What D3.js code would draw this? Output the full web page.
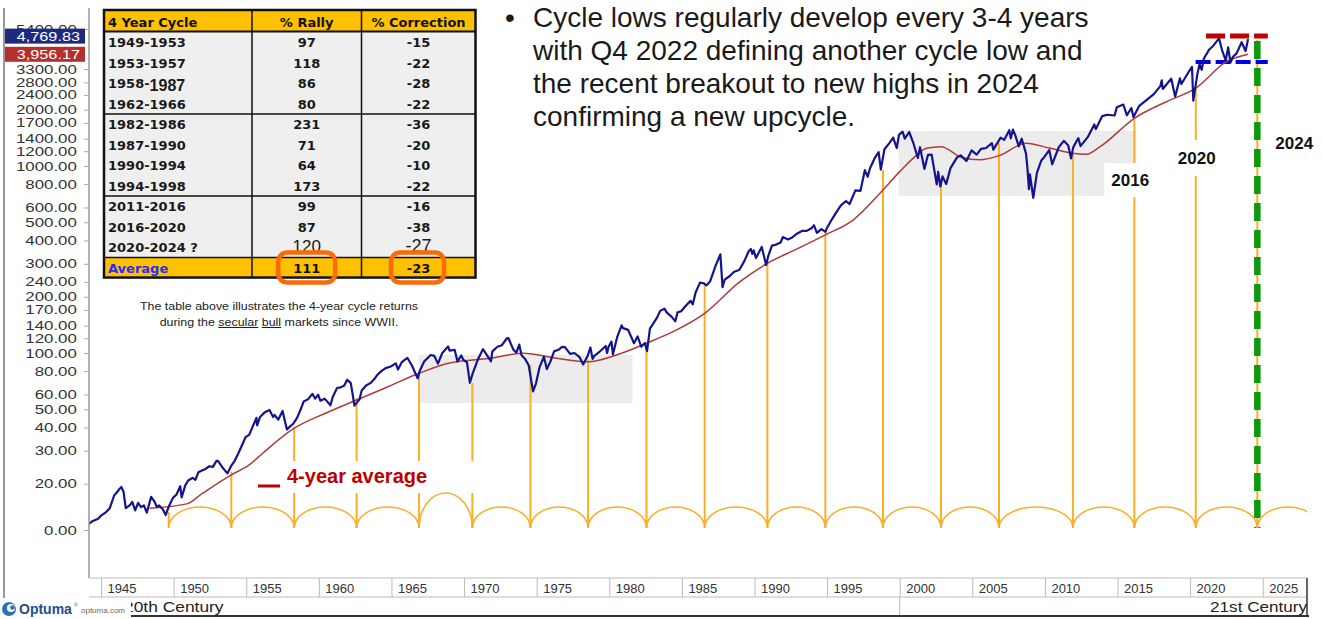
<!DOCTYPE html>
<html>
<head>
<meta charset="utf-8">
<script src="https://cdn.jsdelivr.net/npm/d3@7"></script>
<style>
  body { margin: 0; background: #fff; }
  svg { display: block; font-family: Arial, "Liberation Sans", sans-serif; }
</style>
</head>
<body>
<div id="container"></div>
<script>
// ---- data ----
var spxPrice = [
  [1944.0,11.9],[1944.4,12.6],[1944.8,13.0],[1945.0,13.5],[1945.3,14.0],[1945.6,14.8],[1945.9,17.3],
  [1946.1,18.0],[1946.25,18.7],[1946.4,19.2],[1946.55,18.1],[1946.7,14.8],[1946.85,15.1],[1947.0,15.4],
  [1947.15,16.0],[1947.35,14.4],[1947.55,15.8],[1947.75,15.0],[1947.95,15.3],[1948.15,14.0],[1948.45,17.0],
  [1948.65,16.2],[1948.85,15.0],[1949.0,15.3],[1949.25,14.6],[1949.45,13.6],[1949.65,15.0],[1949.95,16.8],
  [1950.2,17.5],[1950.45,19.4],[1950.55,16.9],[1950.8,19.6],[1951.0,20.8],[1951.3,21.5],[1951.5,21.0],
  [1951.7,23.0],[1951.95,23.5],[1952.2,24.0],[1952.45,24.8],[1952.7,24.6],[1952.95,26.5],[1953.05,26.5],
  [1953.35,24.5],[1953.7,22.7],[1953.95,24.8],[1954.2,26.5],[1954.45,29.0],[1954.7,32.0],[1954.95,35.5],
  [1955.2,36.5],[1955.45,40.5],[1955.7,45.0],[1955.75,41.0],[1955.95,45.5],[1956.25,48.0],[1956.6,49.5],
  [1956.85,45.5],[1956.95,46.7],[1957.2,44.0],[1957.5,49.0],[1957.8,39.0],[1957.95,40.0],[1958.25,42.0],
  [1958.5,45.0],[1958.75,50.0],[1958.95,55.0],[1959.25,56.5],[1959.55,60.5],[1959.75,57.0],[1959.95,59.9],
  [1960.1,55.6],[1960.4,57.0],[1960.8,52.5],[1960.95,58.0],[1961.25,65.0],[1961.5,65.5],[1961.75,67.0],
  [1961.95,72.0],[1962.2,69.0],[1962.45,52.3],[1962.8,56.5],[1962.95,63.0],[1963.25,67.0],[1963.55,69.0],
  [1963.85,73.0],[1964.0,76.0],[1964.3,80.0],[1964.6,83.0],[1964.95,84.7],[1965.3,88.0],[1965.45,81.6],
  [1965.7,89.0],[1965.95,92.4],[1966.1,94.0],[1966.4,86.0],[1966.8,73.2],[1966.95,80.3],[1967.25,90.0],
  [1967.7,97.6],[1967.95,96.5],[1968.2,87.7],[1968.5,100.0],[1968.9,108.4],[1969.0,103.0],[1969.35,104.0],
  [1969.55,90.0],[1969.8,97.0],[1969.95,92.0],[1970.2,89.0],[1970.4,69.3],[1970.6,78.0],[1970.95,92.2],
  [1971.3,104.8],[1971.55,98.0],[1971.85,90.2],[1971.95,102.1],[1972.3,108.0],[1972.6,110.0],[1972.95,119.9],
  [1973.05,120.2],[1973.4,104.0],[1973.6,100.5],[1973.8,111.0],[1973.95,97.5],[1974.2,93.0],[1974.45,86.0],
  [1974.75,62.3],[1974.95,68.6],[1975.2,84.0],[1975.5,95.6],[1975.7,82.0],[1975.95,90.2],[1976.2,102.0],
  [1976.5,104.0],[1976.75,107.8],[1976.95,107.5],[1977.3,99.0],[1977.6,100.0],[1977.95,95.1],[1978.2,86.9],
  [1978.5,96.0],[1978.7,107.0],[1978.85,93.0],[1978.95,96.1],[1979.3,101.0],[1979.75,109.0],[1979.85,99.9],
  [1979.95,107.9],[1980.15,115.0],[1980.25,98.2],[1980.55,122.0],[1980.85,140.5],[1980.95,135.8],[1981.3,133.0],
  [1981.7,112.8],[1981.95,122.6],[1982.2,108.0],[1982.45,113.0],[1982.6,102.4],[1982.8,135.0],[1982.95,140.6],
  [1983.3,155.0],[1983.5,168.0],[1983.8,172.6],[1983.95,164.9],[1984.3,156.0],[1984.55,147.8],[1984.7,165.0],
  [1984.95,167.2],[1985.3,180.0],[1985.6,190.0],[1985.75,182.0],[1985.95,211.3],[1986.25,238.0],[1986.5,236.0],
  [1986.7,230.0],[1986.95,242.0],[1987.3,290.0],[1987.65,336.8],[1987.8,224.8],[1987.95,247.0],[1988.3,258.0],
  [1988.6,272.0],[1988.95,277.7],[1989.3,310.0],[1989.6,350.0],[1989.75,359.8],[1989.85,339.0],[1989.95,353.4],
  [1990.1,322.0],[1990.5,368.9],[1990.8,295.5],[1990.95,330.2],[1991.2,375.0],[1991.5,380.0],[1991.8,390.0],
  [1991.95,417.0],[1992.3,405.0],[1992.6,415.0],[1992.95,435.7],[1993.3,450.0],[1993.6,450.0],[1993.95,466.5],
  [1994.1,482.0],[1994.3,438.9],[1994.6,460.0],[1994.9,445.0],[1994.95,459.3],[1995.3,514.0],[1995.6,560.0],
  [1995.95,615.9],[1996.3,650.0],[1996.55,626.0],[1996.95,740.7],[1997.3,737.0],[1997.6,950.0],[1997.8,876.0],
  [1997.95,970.4],[1998.3,1110.0],[1998.55,1186.0],[1998.7,957.0],[1998.95,1229.0],[1999.3,1330.0],
  [1999.55,1418.0],[1999.8,1247.0],[1999.95,1469.0],[2000.2,1527.0],[2000.35,1400.0],[2000.65,1520.0],
  [2000.95,1320.0],[2001.25,1103.0],[2001.4,1260.0],[2001.7,965.0],[2001.95,1148.0],[2002.2,1150.0],
  [2002.55,797.0],[2002.65,930.0],[2002.8,776.8],[2002.95,879.8],[2003.2,800.0],[2003.5,975.0],[2003.95,1111.9],
  [2004.2,1140.0],[2004.6,1063.0],[2004.95,1211.9],[2005.3,1150.0],[2005.6,1235.0],[2005.95,1248.3],
  [2006.35,1325.0],[2006.45,1223.0],[2006.95,1418.3],[2007.2,1380.0],[2007.55,1553.0],[2007.65,1406.0],
  [2007.8,1565.0],[2007.95,1468.0],[2008.2,1273.0],[2008.4,1400.0],[2008.7,1166.0],[2008.8,968.0],
  [2008.9,752.0],[2008.97,903.0],[2009.2,676.5],[2009.45,919.0],[2009.75,1070.0],[2009.95,1115.0],
  [2010.3,1217.0],[2010.5,1022.0],[2010.95,1257.6],[2011.3,1363.0],[2011.6,1290.0],[2011.8,1099.0],
  [2011.95,1257.6],[2012.3,1410.0],[2012.45,1278.0],[2012.95,1426.2],[2013.4,1669.0],[2013.5,1573.0],
  [2013.95,1848.4],[2014.3,1880.0],[2014.8,1862.0],[2014.95,2058.9],[2015.4,2130.0],[2015.65,1867.0],
  [2015.95,2043.9],[2016.1,1829.0],[2016.5,2099.0],[2016.95,2238.8],[2017.5,2423.0],[2017.95,2673.6],
  [2018.05,2872.9],[2018.12,2581.0],[2018.7,2930.8],[2018.97,2351.0],[2019.3,2945.0],[2019.4,2744.0],
  [2019.95,3230.8],[2020.13,3386.0],[2020.22,2237.4],[2020.5,3100.0],[2020.65,3500.0],[2020.8,3270.0],
  [2020.95,3756.0],[2021.3,4181.0],[2021.6,4400.0],[2021.95,4766.0],[2022.0,4796.6],[2022.2,4170.0],
  [2022.45,3666.0],[2022.62,4305.0],[2022.78,3577.0],[2022.95,3839.5],[2023.2,4000.0],[2023.55,4589.0],
  [2023.82,4117.0],[2023.99,4769.83]
];

// 4-year moving average (red line)
var avg4Year = [
  [1948.35,14.8],[1950.9,15.6],[1952.0,17.8],[1953.97,22.3],[1955.2,25.2],[1956.15,29.2],[1958.3,39.6],
  [1960.5,47.8],[1962.6,56.1],[1964.76,66.0],[1966.9,77.9],[1969.0,88.4],[1970.57,91.8],[1971.76,93.7],
  [1974.06,99.6],[1976.36,93.7],[1978.54,89.8],[1980.49,97.6],[1982.55,112.7],[1984.39,130],[1986.57,163],
  [1988.98,240],[1990.89,302],[1992.9,359],[1994.88,428],[1996.79,514],[1998.85,744],[2000.0,933],
  [2000.92,1099],[2001.84,1244],[2002.84,1268],[2004.3,1110],[2005.5,1080],[2006.9,1140],[2008.7,1325],
  [2010.3,1248],[2011.9,1169],[2012.86,1155],[2013.8,1268],[2016.16,1800],[2018.37,2207],[2020.39,2605],
  [2022.5,3612],[2023.99,3956.17]
];

// cycle lows (orange verticals)
var cycleLowYears  = [1949.66,1953.97,1958.3,1962.6,1966.9,1970.57,1974.57,1978.54,1982.56,1986.57,
                      1990.89,1994.88,1998.85,2002.84,2006.84,2011.93,2016.16,2020.39,2024.63];
var cycleLowValues = [14.1,23.2,40.3,57.5,78.2,69.1,86.2,91.8,108,236,303,455,952,811,1327,1174,1828,2612,4720];

// shaded sideways ranges
var rangeStart = [1966.9, 1999.93];
var rangeEnd   = [1981.6, 2016.3];
var rangeLow   = [54, 692];
var rangeHigh  = [97.6, 1538];

// recent range dashes
var recentHigh = 4950, recentLow = 3600;

// axes
var yTickValues = [5400,3300,2800,2400,2000,1700,1400,1200,1000,800,600,500,400,300,240,200,170,140,120,100,80,60,50,40,30,20,11.3];
var yTickLabels = ["5400.00","3300.00","2800.00","2400.00","2000.00","1700.00","1400.00","1200.00","1000.00",
                   "800.00","600.00","500.00","400.00","300.00","240.00","200.00","170.00","140.00","120.00",
                   "100.00","80.00","60.00","50.00","40.00","30.00","20.00","0.00"];
var xTickYears = d3.range(1945, 2026, 5);
var lastClose = 4769.83, lastAverage = 3956.17;

// table
var cycleRanges   = ["1949-1953","1953-1957","1958-1987","1962-1966","1982-1986","1987-1990",
                     "1990-1994","1994-1998","2011-2016","2016-2020","2020-2024 ?"];
var rallyPct      = [97,118,86,80,231,71,64,173,99,87,120];
var correctionPct = [-15,-22,-28,-22,-36,-20,-10,-22,-16,-38,-27];
var averageRally = 111, averageCorrection = -23;

var bulletLines = ["Cycle lows regularly develop every 3-4 years",
                   "with Q4 2022 defining another cycle low and",
                   "the recent breakout to new highs in 2024",
                   "confirming a new upcycle."];

// ---- chart ----
var W = 1323, H = 619;
var plot = { left: 89, right: 1307, top: 8, bottom: 578 };
var baseY = 528;

var svg = d3.select("#container").append("svg").attr("width", W).attr("height", H);

var x = d3.scaleLinear().domain([1944.17, 2028.05]).range([plot.left, plot.right]);
var y = d3.scaleLog().domain([10, 10000]).range([540, -21]);

function stretch(sel, sx) {
  sel.attr("transform", function () {
    var t = d3.select(this), tx = +t.attr("x") || 0, ty = +t.attr("y") || 0;
    return "translate(" + tx + "," + ty + ") scale(" + sx + ",1) translate(" + (-tx) + "," + (-ty) + ")";
  });
}

svg.append("clipPath").attr("id", "plotclip")
  .append("rect").attr("x", plot.left).attr("y", 0)
  .attr("width", plot.right - plot.left).attr("height", plot.bottom);

var main = svg.append("g").attr("clip-path", "url(#plotclip)");

// shaded ranges
main.selectAll("rect.range").data(rangeStart).enter().append("rect")
  .attr("class", "range")
  .attr("x", function (d) { return x(d); })
  .attr("width", function (d, i) { return x(rangeEnd[i]) - x(d); })
  .attr("y", function (d, i) { return y(rangeHigh[i]); })
  .attr("height", function (d, i) { return y(rangeLow[i]) - y(rangeHigh[i]); })
  .style("fill", "#ececec");

// cycle low verticals
main.selectAll("line.cycle").data(cycleLowYears).enter().append("line")
  .attr("class", "cycle")
  .attr("x1", function (d) { return x(d); }).attr("x2", function (d) { return x(d); })
  .attr("y1", function (d, i) { return y(cycleLowValues[i]); }).attr("y2", baseY)
  .style("stroke", "#fbae28").style("stroke-width", 2);

// green 2024 marker
var lastCycle = cycleLowYears[cycleLowYears.length - 1];
main.append("line")
  .attr("x1", x(lastCycle)).attr("x2", x(lastCycle))
  .attr("y1", y(cycleLowValues[cycleLowValues.length - 1]) + 1).attr("y2", baseY)
  .style("stroke", "#0b9a0b").style("stroke-width", 6.5).style("stroke-dasharray", "18,9");

// white label backgrounds
function whiteBox(x0, y0, w, h) {
  main.append("rect").attr("x", x0).attr("y", y0).attr("width", w).attr("height", h).style("fill", "#fff");
}
whiteBox(255, 461, 224, 32);
whiteBox(x(2016.16) - 30, 163, 56, 34);
whiteBox(x(2020.39) - 24, 140, 48, 36);

// cycle arcs
var arcYears = cycleLowYears.concat([cycleLowYears[cycleLowYears.length - 1] + 4.2]);
main.selectAll("path.arc").data(d3.range(arcYears.length - 1)).enter().append("path")
  .attr("class", "arc")
  .attr("d", function (i) {
    var x0 = x(arcYears[i]), x1 = x(arcYears[i + 1]);
    var h = (x1 - x0) < 55 ? 35 : 21;
    return "M" + x0 + "," + baseY + " A" + (x1 - x0) / 2 + "," + h + " 0 0 1 " + x1 + "," + baseY;
  })
  .style("fill", "none").style("stroke", "#fbae28").style("stroke-width", 1.6);

// recent range dashes
main.append("line")
  .attr("x1", x(2021.1)).attr("x2", x(2025.35))
  .attr("y1", y(recentHigh)).attr("y2", y(recentHigh))
  .style("stroke", "#c00000").style("stroke-width", 5).style("stroke-dasharray", "19,5");
main.append("line")
  .attr("x1", x(2020.38)).attr("x2", x(2025.35))
  .attr("y1", y(recentLow)).attr("y2", y(recentLow))
  .style("stroke", "#0000e6").style("stroke-width", 4).style("stroke-dasharray", "15,5");

// 4-year average
main.append("path").datum(avg4Year)
  .attr("d", d3.line().x(function (d) { return x(d[0]); }).y(function (d) { return y(d[1]); })
    .curve(d3.curveMonotoneX))
  .style("fill", "none").style("stroke", "#b23a3a").style("stroke-width", 1.5);

// price
main.append("path").datum(spxPrice)
  .attr("d", d3.line().x(function (d) { return x(d[0]); }).y(function (d) { return y(d[1]); }))
  .style("fill", "none").style("stroke", "#14148c").style("stroke-width", 2.2).style("stroke-linejoin", "round");

// in-chart labels
main.append("line").attr("x1", 258).attr("x2", 280).attr("y1", 486).attr("y2", 486)
  .style("stroke", "#c00000").style("stroke-width", 3);
main.append("text").attr("x", 287).attr("y", 483).text("4-year average")
  .style("font-size", "20px").style("font-weight", "bold").style("fill", "#c00000");

var yearLabels = [[2016.16, 186, -23], [2020.39, 164, -18], [2024.63, 149, 18]];
svg.selectAll("text.cyc").data(yearLabels).enter().append("text")
  .attr("class", "cyc")
  .attr("x", function (d) { return x(d[0]) + d[2]; }).attr("y", function (d) { return d[1]; })
  .text(function (d) { return Math.floor(d[0]); })
  .style("font-size", "17px").style("font-weight", "bold").style("fill", "#111");

// ---- y axis ----
svg.append("line").attr("x1", 4).attr("x2", 4).attr("y1", 8).attr("y2", 598)
  .style("stroke", "#999").style("stroke-width", 2);
svg.append("line").attr("x1", plot.left).attr("x2", plot.left).attr("y1", plot.top).attr("y2", plot.bottom)
  .style("stroke", "#999").style("stroke-width", 1.5);

var yAxis = svg.append("g").attr("transform", "translate(" + plot.left + ",0)")
  .call(d3.axisLeft(y).tickValues(yTickValues).tickSize(5).tickPadding(4)
    .tickFormat(function (d, i) { return yTickLabels[i]; }));
yAxis.select(".domain").remove();
yAxis.selectAll(".tick line").style("stroke", "#aaa");
yAxis.selectAll(".tick text").style("font-family", "Arial, 'Liberation Sans', sans-serif")
  .style("font-size", "12.5px").style("fill", "#333").attr("transform", "scale(1.35,1)");

// last value boxes
var valBoxes = [[lastClose, "#1d2a80", -3], [lastAverage, "#b3302d", 0]];
valBoxes.forEach(function (b) {
  var cy = y(b[0]) + b[2];
  svg.append("rect").attr("x", 5).attr("y", cy - 7.5).attr("width", 80).attr("height", 15).style("fill", b[1]);
  var t = svg.append("text").attr("x", 80).attr("y", cy + 4.5).attr("text-anchor", "end")
    .text(d3.format(",.2f")(b[0]))
    .style("font-size", "12.5px").style("fill", "#fff");
  stretch(t, 1.3);
});

// ---- x axis band ----
var xAxis = svg.append("g").attr("transform", "translate(0," + plot.bottom + ")")
  .call(d3.axisBottom(x).tickValues(xTickYears).tickSize(19).tickFormat(d3.format("d")));
xAxis.select(".domain").remove();
xAxis.selectAll(".tick line").style("stroke", "#bbb");
xAxis.selectAll(".tick text").attr("x", 6).attr("y", 15).attr("dy", 0).style("text-anchor", "start")
  .style("font-family", "Arial, 'Liberation Sans', sans-serif").style("font-size", "13px").style("fill", "#333");

svg.append("line").attr("x1", plot.left).attr("x2", plot.right).attr("y1", plot.bottom).attr("y2", plot.bottom)
  .style("stroke", "#bbb");
svg.append("line").attr("x1", plot.left).attr("x2", plot.right).attr("y1", 597).attr("y2", 597)
  .style("stroke", "#bbb");
svg.append("line").attr("x1", x(2000)).attr("x2", x(2000)).attr("y1", 597).attr("y2", 615)
  .style("stroke", "#bbb");
svg.append("line").attr("x1", plot.right).attr("x2", plot.right).attr("y1", plot.bottom).attr("y2", 616)
  .style("stroke", "#333").style("stroke-width", 1.5);
svg.append("line").attr("x1", 120).attr("x2", plot.right + 2).attr("y1", 616).attr("y2", 616)
  .style("stroke", "#333").style("stroke-width", 2);

var c20 = svg.append("text").attr("x", 124).attr("y", 612).text("20th Century")
  .style("font-size", "15px").style("fill", "#222");
stretch(c20, 1.16);
var c21 = svg.append("text").attr("x", plot.right).attr("y", 612).attr("text-anchor", "end").text("21st Century")
  .style("font-size", "15px").style("fill", "#222");
stretch(c21, 1.14);

// Optuma logo
svg.append("rect").attr("x", 0).attr("y", 599).attr("width", 131).attr("height", 20).style("fill", "#fff");
svg.append("circle").attr("cx", 9).attr("cy", 609).attr("r", 7).style("fill", "#2a72b8");
svg.append("circle").attr("cx", 11).attr("cy", 608).attr("r", 4).style("fill", "#fff");
svg.append("circle").attr("cx", 12.5).attr("cy", 607.5).attr("r", 2.3).style("fill", "#2a72b8");
svg.append("text").attr("x", 19).attr("y", 614).text("Optuma")
  .style("font-size", "14px").style("font-weight", "bold").style("fill", "#1e4e8c");
svg.append("text").attr("x", 74).attr("y", 607).text("®").style("font-size", "5px").style("fill", "#666");
svg.append("text").attr("x", 81).attr("y", 613).text("optuma.com").style("font-size", "8px").style("fill", "#666");

// ---- bullet text ----
svg.append("text").attr("x", 505).attr("y", 27).text("•").style("font-size", "28px").style("fill", "#1a1a1a");
svg.selectAll("text.bullet").data(bulletLines).enter().append("text")
  .attr("class", "bullet")
  .attr("x", 533).attr("y", function (d, i) { return 27 + i * 33; })
  .text(function (d) { return d; })
  .style("font-size", "28px").style("fill", "#1a1a1a");

// ---- table ----
var tb = svg.append("g").style("font-family", "'DejaVu Sans', Verdana, sans-serif");
var tL = 104, tR = 475.5, c1 = 252, c2 = 361.5, tTop = 10, hdrB = 31.5, row0 = 42.3, step = 20.5;
var avgTop = row0 + step * (cycleRanges.length - 0.5), tBot = avgTop + 20;
var rallyX = 306.7, corrX = 418.5;

tb.append("rect").attr("x", tL).attr("y", tTop).attr("width", tR - tL).attr("height", hdrB - tTop).style("fill", "#ffc000");
tb.append("rect").attr("x", tL).attr("y", hdrB).attr("width", tR - tL).attr("height", avgTop - hdrB).style("fill", "#efefef");
tb.append("rect").attr("x", tL).attr("y", avgTop).attr("width", tR - tL).attr("height", tBot - avgTop).style("fill", "#ffc000");

[c1, c2].forEach(function (cx) {
  tb.append("line").attr("x1", cx).attr("x2", cx).attr("y1", tTop).attr("y2", tBot)
    .style("stroke", "#111").style("stroke-width", 1.5);
});
tb.append("line").attr("x1", tL).attr("x2", tR).attr("y1", hdrB).attr("y2", hdrB).style("stroke", "#111").style("stroke-width", 2);
[3, 7, 10].forEach(function (i) {
  var gy = row0 + step * (i + 0.5);
  tb.append("line").attr("x1", tL).attr("x2", tR).attr("y1", gy).attr("y2", gy)
    .style("stroke", "#111").style("stroke-width", 1.5);
});
tb.append("rect").attr("x", tL).attr("y", tTop).attr("width", tR - tL).attr("height", tBot - tTop)
  .style("fill", "none").style("stroke", "#111").style("stroke-width", 2.5);

// header
var hdr = [["4 Year Cycle", tL + 4, "start"], ["% Rally", rallyX, "middle"], ["% Correction", corrX, "middle"]];
hdr.forEach(function (h) {
  tb.append("text").attr("x", h[1]).attr("y", 26.5).attr("text-anchor", h[2]).text(h[0])
    .style("font-size", "13px").style("font-weight", "bold").style("fill", "#111");
});

// body rows
var last = cycleRanges.length - 1;
var rows = tb.selectAll("g.row").data(cycleRanges).enter().append("g").attr("class", "row");
rows.append("text")
  .attr("x", tL + 4).attr("y", function (d, i) { return row0 + step * i + 5; })
  .style("font-size", "13px").style("font-weight", "bold").style("fill", "#1a1a1a")
  .each(function (d, i) {
    var t = d3.select(this);
    if (i === 2) {
      var parts = d.split("-");
      t.append("tspan").text(parts[0] + "-");
      t.append("tspan").attr("dy", 3).text(parts[1])
        .style("font-family", "Arial, 'Liberation Sans', sans-serif").style("font-size", "16px");
    } else {
      t.text(d);
    }
  });

function numCell(values, cx, lastSize) {
  rows.append("text")
    .attr("x", cx).attr("y", function (d, i) { return row0 + step * i + 5; })
    .attr("text-anchor", "middle")
    .text(function (d, i) { return values[i]; })
    .each(function (d, i) {
      var t = d3.select(this);
      if (i === last) {
        t.style("font-family", "Arial, 'Liberation Sans', sans-serif").style("font-size", lastSize).style("font-weight", "normal");
      } else {
        t.style("font-size", "13px").style("font-weight", "bold");
      }
    })
    .style("fill", "#1a1a1a");
}
numCell(rallyPct, rallyX, "17px");
numCell(correctionPct, corrX, "18px");

// average row
var avgY = avgTop + 15;
tb.append("text").attr("x", tL + 4).attr("y", avgY).text("Average")
  .style("font-size", "13px").style("font-weight", "bold").style("fill", "#2b2bff");
tb.append("text").attr("x", rallyX).attr("y", avgY).attr("text-anchor", "middle").text(averageRally)
  .style("font-size", "13px").style("font-weight", "bold").style("fill", "#111");
tb.append("text").attr("x", corrX).attr("y", avgY).attr("text-anchor", "middle").text(averageCorrection)
  .style("font-size", "13px").style("font-weight", "bold").style("fill", "#111");

// highlight boxes
[[rallyX, 57], [corrX - 1, 53]].forEach(function (h) {
  tb.append("rect").attr("x", h[0] - h[1] / 2).attr("y", avgTop - 5).attr("width", h[1]).attr("height", 30)
    .attr("rx", 9).attr("ry", 9)
    .style("fill", "none").style("stroke", "#fb6a0a").style("stroke-width", 4.5);
});

// caption
var cap = svg.append("g").style("font-size", "11px").style("fill", "#222");
var cap1 = cap.append("text").attr("x", 279).attr("y", 310).attr("text-anchor", "middle")
  .text("The table above illustrates the 4-year cycle returns");
stretch(cap1, 1.13);
var cap2 = cap.append("text").attr("x", 279).attr("y", 326).attr("text-anchor", "middle");
cap2.append("tspan").text("during the ");
cap2.append("tspan").text("secular").style("text-decoration", "underline");
cap2.append("tspan").text(" ");
cap2.append("tspan").text("bull").style("text-decoration", "underline");
cap2.append("tspan").text(" markets since WWII.");
stretch(cap2, 1.13);
</script>
</body>
</html>
